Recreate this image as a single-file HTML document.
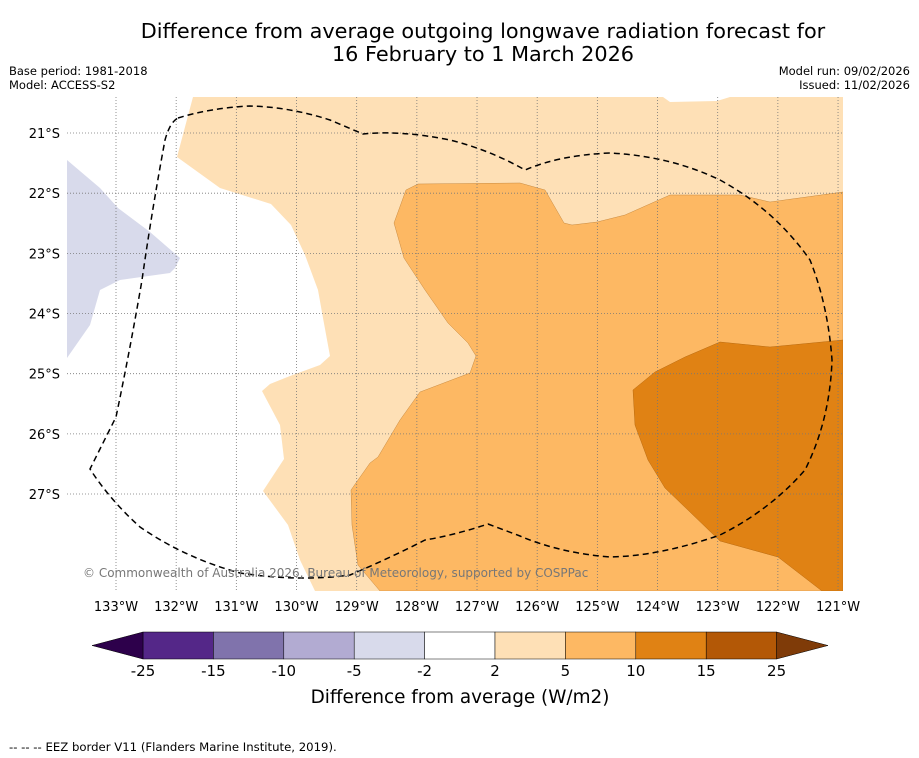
<!DOCTYPE html>
<html><head><meta charset="utf-8"><style>
body{margin:0;background:#fff;width:919px;height:758px;overflow:hidden;font-family:"DejaVu Sans","Liberation Sans",sans-serif}
svg{position:absolute;left:0;top:0}
</style></head><body>
<svg width="919" height="758" font-family="DejaVu Sans, Liberation Sans, sans-serif">
<text x="483" y="38" font-size="20.8" text-anchor="middle">Difference from average outgoing longwave radiation forecast for</text>
<text x="483" y="61" font-size="20.8" text-anchor="middle">16 February to 1 March 2026</text>
<text x="9" y="75" font-size="11.5">Base period: 1981-2018</text>
<text x="9" y="89" font-size="11.5">Model: ACCESS-S2</text>
<text x="910" y="75" font-size="11.5" text-anchor="end">Model run: 09/02/2026</text>
<text x="910" y="89" font-size="11.5" text-anchor="end">Issued: 11/02/2026</text>
<defs><clipPath id="mc"><rect x="67" y="97" width="776" height="494"/></clipPath></defs>
<g clip-path="url(#mc)">
<rect x="67" y="97" width="776" height="494" fill="#fff"/>
<path fill="#fee0b6" d="M193,97 L177,157 L220,188 L271,204 L291,225 L305,255 L318,290 L323,318 L330,356 L320,365 L290,376 L270,384 L262,391 L280,425 L284,459 L263,491 L288,525 L300,560 L315,591 L843,591 L843,97 Z"/>
<path fill="#fff" d="M663,97 L670,102 L717,101 L730,97 Z"/>
<path fill="#fdb863" d="M843,192 L770,202 L740,195 L670,195 L625,215 L597,222 L572,225 L564,223 L545,190 L520,183 L418,184 L406,190 L394,223 L404,258 L425,290 L448,323 L468,343 L476,356 L470,373 L420,392 L400,420 L378,457 L370,463 L351,490 L352,525 L358,565 L380,591 L843,591 Z" stroke="#c88a40" stroke-width="0.5"/>
<path fill="#e08214" d="M633,390 L655,372 L685,357 L720,342 L770,347 L843,340 L843,591 L822,591 L778,557 L720,541 L690,512 L665,488 L648,460 L635,425 Z" stroke="#b86a10" stroke-width="0.5"/>
<path fill="#d8daeb" d="M67,160 L100,188 L118,208 L150,232 L180,258 L175,268 L170,273 L120,280 L100,290 L90,325 L67,358 Z"/>
<g id="grid" stroke="#777" stroke-width="0.8" stroke-dasharray="1,2"></g>
<path fill="none" stroke="#000" stroke-width="1.5" stroke-dasharray="6,4" stroke-linejoin="round" d="M178,118 Q210,108 250,106 Q290,107 330,120 L363,134 Q400,130 450,140 Q490,150 525,170 Q560,155 610,153 Q670,156 720,180 Q775,210 810,260 Q828,305 832,360 Q830,420 805,470 Q770,510 720,535 Q660,556 610,557 Q560,553 520,536 L488,524 Q455,535 425,540 Q390,558 350,575 Q300,582 240,573 Q185,558 140,527 Q110,500 90,469 L116,417 Q130,350 142,280 Q152,210 165,140 Q170,122 178,118 Z"/>
<text x="83" y="577" font-size="12" fill="#777">© Commonwealth of Australia 2026, Bureau of Meteorology, supported by COSPPac</text>
</g>
<g id="axlabels" font-size="13"></g>
<g id="cbar"></g>
<text x="460" y="703" font-size="18.4" text-anchor="middle">Difference from average (W/m2)</text>
<text x="9" y="751" font-size="11.7">--  --  -- EEZ border V11 (Flanders Marine Institute, 2019).</text>
</svg>
<script>
const lons=[133,132,131,130,129,128,127,126,125,124,123,122,121];
const lats=[21,22,23,24,25,26,27];
const levels=[-25,-15,-10,-5,-2,2,5,10,15,25];
const colors=['#542788','#8073ac','#b2abd2','#d8daeb','#ffffff','#fee0b6','#fdb863','#e08214','#b35806'];
const extColors=['#2d004b','#7f3b08'];
const NS='http://www.w3.org/2000/svg';
function mk(t,a,p){const e=document.createElementNS(NS,t);for(const k in a)e.setAttribute(k,a[k]);p.appendChild(e);return e;}
function xLon(l){return 116+(133-l)*60.17;}
function yLat(l){return 133+(l-21)*60.17;}
const grid=document.getElementById('grid'),ax=document.getElementById('axlabels');
lons.forEach(l=>{const x=xLon(l);
 const g=mk('line',{x1:x,y1:97,x2:x,y2:591},grid);
 
 
 const t=mk('text',{x:x,y:611,'text-anchor':'middle'},ax);t.textContent=l+'°W';
 
 });
lats.forEach(l=>{const y=yLat(l);
 const g=mk('line',{x1:67,y1:y,x2:843,y2:y},grid);
 
 
 const t=mk('text',{x:60,y:y+5,'text-anchor':'end'},ax);t.textContent=l+'°S';
 
 });
const cb=document.getElementById('cbar');
const cx0=143,cw=70.4,cy=632,ch=27;
for(let i=0;i<colors.length;i++){
 const r=mk('rect',{x:cx0+i*cw,y:cy,width:cw,height:ch,fill:colors[i],stroke:'#000','stroke-width':0.5},cb);
 
 }
const xe=cx0+colors.length*cw;
const p1=mk('polygon',{points:`${cx0},${cy} ${cx0},${cy+ch} 92,${cy+ch/2}`,fill:extColors[0],stroke:'#000','stroke-width':0.5},cb);


const p2=mk('polygon',{points:`${xe},${cy} ${xe},${cy+ch} 828,${cy+ch/2}`,fill:extColors[1],stroke:'#000','stroke-width':0.5},cb);


levels.forEach((v,i)=>{const t=mk('text',{x:cx0+i*cw,y:676,'text-anchor':'middle','font-size':15},cb);t.textContent=v;
 
 });
</script>
</body></html>
